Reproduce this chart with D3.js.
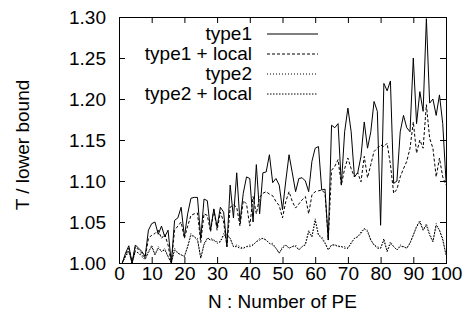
<!DOCTYPE html>
<html>
<head>
<meta charset="utf-8">
<script src="https://cdn.jsdelivr.net/npm/d3@7"></script>
<style>
  html, body { margin: 0; padding: 0; background: #fff; }
  svg { display: block; }
  text { font-family: "Liberation Sans", Arial, sans-serif; fill: #000; }
</style>
</head>
<body>
<svg id="chart" width="466" height="325"></svg>
<script>
const N = d3.range(1, 101);

const type1 = [
  1.000,1.012,1.021,1.000,1.022,1.018,1.014,1.008,1.040,1.048,
  1.050,1.035,1.045,1.032,1.040,1.000,1.052,1.055,1.068,1.032,
  1.060,1.079,1.080,1.080,1.030,1.078,1.076,1.040,1.066,1.044,
  1.068,1.062,1.020,1.095,1.055,1.110,1.050,1.085,1.105,1.103,
  1.050,1.120,1.060,1.110,1.111,1.132,1.098,1.103,1.095,1.065,
  1.100,1.132,1.110,1.087,1.103,1.104,1.100,1.087,1.124,1.140,
  1.142,1.089,1.090,1.028,1.168,1.165,1.170,1.095,1.160,1.189,
  1.160,1.105,1.110,1.130,1.172,1.140,1.160,1.197,1.185,1.046,
  1.219,1.210,1.222,1.097,1.100,1.160,1.180,1.165,1.160,1.250,
  1.170,1.209,1.185,1.298,1.195,1.200,1.180,1.205,1.170,1.100
];

const type1Local = [
  1.000,1.010,1.018,1.000,1.020,1.016,1.012,1.006,1.030,1.034,
  1.036,1.040,1.030,1.035,1.022,1.000,1.040,1.045,1.050,1.030,
  1.045,1.058,1.060,1.061,1.025,1.060,1.058,1.038,1.065,1.040,
  1.062,1.050,1.020,1.068,1.071,1.068,1.045,1.076,1.072,1.045,
  1.081,1.060,1.080,1.085,1.087,1.084,1.082,1.075,1.070,1.055,
  1.075,1.087,1.075,1.067,1.072,1.077,1.081,1.060,1.083,1.087,
  1.088,1.089,1.085,1.028,1.113,1.118,1.126,1.095,1.115,1.128,
  1.115,1.105,1.110,1.099,1.130,1.104,1.120,1.136,1.140,1.144,
  1.142,1.146,1.120,1.085,1.090,1.105,1.115,1.124,1.140,1.172,
  1.134,1.150,1.140,1.193,1.152,1.140,1.105,1.128,1.105,1.095
];

const type2 = [
  1.000,1.008,1.015,1.000,1.015,1.012,1.010,1.005,1.012,1.022,
  1.010,1.020,1.014,1.018,1.008,1.000,1.018,1.012,1.010,1.008,
  1.020,1.036,1.032,1.030,1.006,1.024,1.030,1.030,1.028,1.026,
  1.026,1.036,1.035,1.030,1.020,1.022,1.020,1.018,1.020,1.022,
  1.022,1.026,1.030,1.030,1.028,1.024,1.024,1.018,1.012,1.020,
  1.022,1.018,1.020,1.022,1.016,1.020,1.024,1.040,1.032,1.054,
  1.034,1.032,1.025,1.016,1.022,1.022,1.021,1.020,1.020,1.018,
  1.025,1.030,1.032,1.038,1.042,1.040,1.028,1.022,1.020,1.018,
  1.030,1.014,1.026,1.020,1.016,1.022,1.020,1.018,1.025,1.034,
  1.045,1.052,1.040,1.048,1.036,1.026,1.048,1.040,1.030,1.010
];

const type2Local = [
  1.000,1.008,1.014,1.000,1.014,1.012,1.008,1.004,1.014,1.020,
  1.010,1.018,1.014,1.016,1.008,1.000,1.016,1.012,1.010,1.008,
  1.020,1.034,1.032,1.028,1.006,1.022,1.030,1.028,1.028,1.024,
  1.026,1.034,1.034,1.030,1.020,1.020,1.018,1.018,1.020,1.020,
  1.022,1.026,1.028,1.030,1.028,1.024,1.022,1.018,1.012,1.018,
  1.022,1.018,1.020,1.020,1.016,1.020,1.022,1.038,1.032,1.052,
  1.034,1.030,1.024,1.016,1.022,1.022,1.020,1.020,1.018,1.018,
  1.024,1.030,1.032,1.036,1.042,1.038,1.028,1.022,1.018,1.018,
  1.028,1.014,1.024,1.020,1.016,1.020,1.020,1.018,1.024,1.034,
  1.044,1.050,1.040,1.046,1.034,1.026,1.046,1.040,1.028,1.010
];

const seriesNames = ["type1", "type1 + local", "type2", "type2 + local"];
const seriesData = [type1, type1Local, type2, type2Local];
const seriesDash = [null, "3,2", "1,2", "1.5,1.5"];

const xTicks = [0,10,20,30,40,50,60,70,80,90,100];
const yTicks = [1.00,1.05,1.10,1.15,1.20,1.25,1.30];

const svg = d3.select("#chart");
const L = 119, R = 446, T = 17, B = 263;
const FS = 19;

const x = d3.scaleLinear().domain([0, 100]).range([L, R]);
const y = d3.scaleLinear().domain([1.00, 1.30]).range([B, T]);

svg.append("rect").attr("width", 466).attr("height", 325).attr("fill", "#fff");

svg.append("defs").append("clipPath").attr("id", "clip")
  .append("rect").attr("x", L).attr("y", T).attr("width", R - L).attr("height", B - T);

// series
const line = d3.line().x((d, i) => x(N[i])).y(d => y(d));
const g = svg.append("g").attr("clip-path", "url(#clip)");
seriesData.forEach((arr, k) => {
  g.append("path")
    .attr("d", line(arr))
    .attr("fill", "none")
    .attr("stroke", "#000")
    .attr("stroke-width", 1)
    .attr("stroke-dasharray", seriesDash[k]);
});

// axes with inward ticks
const tickLen = 6;
const axB = svg.append("g").attr("transform", `translate(0,${B})`)
  .call(d3.axisBottom(x).tickValues(xTicks).tickFormat(d3.format("d")).tickSize(-tickLen).tickPadding(4));
const axT = svg.append("g").attr("transform", `translate(0,${T})`)
  .call(d3.axisTop(x).tickValues(xTicks).tickFormat("").tickSize(-tickLen));
const axL = svg.append("g").attr("transform", `translate(${L},0)`)
  .call(d3.axisLeft(y).tickValues(yTicks).tickFormat(d3.format(".2f")).tickSize(-tickLen).tickPadding(13));
const axR = svg.append("g").attr("transform", `translate(${R},0)`)
  .call(d3.axisRight(y).tickValues(yTicks).tickFormat("").tickSize(-tickLen));

[axB, axT, axL, axR].forEach(a => {
  a.select(".domain").remove();
  a.selectAll("line").attr("stroke", "#000");
  a.selectAll("text").attr("font-size", FS).attr("font-family", '"Liberation Sans", Arial, sans-serif');
});
// remove end ticks touching corners are fine (gnuplot draws them too)

svg.append("rect").attr("x", L).attr("y", T).attr("width", R - L).attr("height", B - T)
  .attr("fill", "none").attr("stroke", "#000").attr("stroke-width", 1).attr("shape-rendering", "crispEdges");

// axis titles
svg.append("text").attr("x", (L + R) / 2).attr("y", 308).attr("text-anchor", "middle")
  .attr("font-size", FS).text("N : Number of PE");
svg.append("text").attr("transform", `translate(29,145) rotate(-90)`).attr("text-anchor", "middle")
  .attr("font-size", FS).text("T / lower bound");

// legend
const leg = svg.append("g");
seriesNames.forEach((name, k) => {
  const cy = 34 + k * 20;
  leg.append("text").attr("x", 252).attr("y", cy + 6).attr("text-anchor", "end")
    .attr("font-size", FS).text(name);
  leg.append("line").attr("x1", 267).attr("x2", 318).attr("y1", cy).attr("y2", cy)
    .attr("stroke", "#000").attr("stroke-width", 1).attr("stroke-dasharray", seriesDash[k]);
});
</script>
</body>
</html>
